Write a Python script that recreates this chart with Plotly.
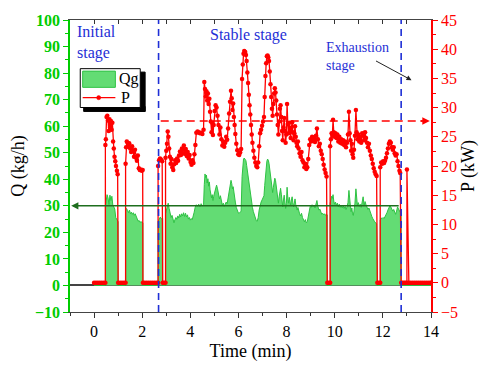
import plotly.graph_objects as go

# ---------------- data ----------------
# Power P (kW) vs time (min)
P_series = [
    (0.00, 0), (0.08, 0), (0.16, 0), (0.24, 0), (0.32, 0), (0.40, 0), (0.47, 0),
    (0.47, 23.6), (0.49, 24.6), (0.52, 28.4), (0.55, 28.6), (0.58, 27.8), (0.61, 26.0),
    (0.64, 28.0), (0.67, 26.6), (0.70, 27.7), (0.73, 26.2), (0.76, 27.4), (0.79, 24.2),
    (0.82, 23.0), (0.85, 21.6), (0.88, 20.8), (0.91, 20.0), (0.95, 19.2), (0.98, 18.6),
    (1.00, 0), (1.08, 0), (1.16, 0), (1.24, 0), (1.31, 0),
    (1.31, 20.4), (1.33, 23.2), (1.36, 24.2), (1.39, 24.0), (1.42, 23.4), (1.46, 23.9),
    (1.50, 23.0), (1.54, 22.4), (1.58, 23.4), (1.62, 22.6), (1.66, 21.6), (1.70, 22.8),
    (1.74, 21.4), (1.78, 20.9), (1.82, 21.8), (1.86, 19.6), (1.90, 19.3), (1.94, 19.4),
    (1.98, 19.2), (2.02, 19.3),
    (2.03, 0), (2.10, 0), (2.18, 0), (2.26, 0), (2.34, 0), (2.42, 0), (2.50, 0), (2.58, 0), (2.66, 0),
    (2.66, 20.0), (2.70, 21.0), (2.74, 21.3), (2.78, 21.1), (2.83, 20.8),
    (2.85, 0), (2.91, 0), (2.97, 0),
    (2.97, 21.4), (3.00, 22.6), (3.03, 23.8), (3.06, 25.9), (3.09, 25.0), (3.12, 23.0),
    (3.15, 21.6), (3.18, 20.4), (3.21, 21.2), (3.25, 19.8), (3.29, 19.3), (3.33, 20.3),
    (3.37, 21.0), (3.41, 20.5), (3.45, 21.3), (3.49, 20.9), (3.53, 21.8), (3.57, 22.5),
    (3.61, 21.9), (3.65, 23.0), (3.69, 22.2), (3.73, 23.5), (3.77, 22.1), (3.81, 22.9),
    (3.85, 21.7), (3.89, 22.4), (3.93, 21.3), (3.97, 21.9), (4.01, 20.7), (4.05, 20.2),
    (4.09, 21.0), (4.13, 20.5), (4.17, 22.0), (4.21, 23.6), (4.25, 25.7), (4.30, 25.9),
    (4.35, 25.8), (4.40, 25.6), (4.45, 25.7), (4.50, 25.5), (4.55, 26.2), (4.58, 34.4),
    (4.61, 33.2), (4.64, 31.9), (4.67, 32.8), (4.70, 31.2), (4.73, 32.4), (4.76, 30.6),
    (4.79, 31.5), (4.82, 29.3), (4.85, 27.6), (4.88, 25.8), (4.91, 27.4), (4.94, 25.3),
    (4.97, 27.0), (5.01, 29.4), (5.05, 30.4), (5.09, 30.0), (5.13, 28.6), (5.17, 27.0),
    (5.21, 25.4), (5.25, 26.6), (5.29, 24.6), (5.33, 23.5), (5.37, 24.2), (5.41, 23.3),
    (5.45, 24.0), (5.49, 25.0), (5.53, 24.5), (5.57, 26.4), (5.61, 29.0), (5.65, 31.0),
    (5.69, 32.9), (5.72, 31.6), (5.75, 29.6), (5.78, 30.7), (5.81, 28.4), (5.84, 27.0),
    (5.87, 25.5), (5.91, 23.8), (5.95, 22.7), (5.99, 22.0), (6.03, 21.9), (6.07, 22.3),
    (6.11, 22.9), (6.15, 34.9), (6.18, 37.4), (6.21, 39.2), (6.24, 39.7), (6.28, 39.5),
    (6.31, 39.0), (6.34, 38.0), (6.37, 36.0), (6.40, 34.2), (6.43, 32.2), (6.46, 30.4),
    (6.49, 28.8), (6.52, 27.0), (6.55, 25.4), (6.58, 24.0), (6.62, 22.6), (6.66, 21.4),
    (6.70, 20.6), (6.74, 20.0), (6.78, 19.8), (6.82, 20.6), (6.86, 23.4), (6.90, 25.6),
    (6.94, 26.2), (6.98, 26.9), (7.02, 27.6), (7.06, 28.4), (7.09, 31.8), (7.12, 35.4),
    (7.15, 37.6), (7.18, 38.8), (7.21, 38.9), (7.24, 38.6), (7.27, 38.0), (7.30, 36.2),
    (7.33, 34.0), (7.36, 31.8), (7.39, 29.8), (7.42, 28.6), (7.45, 30.6), (7.48, 32.4),
    (7.51, 33.3), (7.54, 32.6), (7.57, 31.2), (7.60, 28.8), (7.63, 27.0), (7.66, 25.4),
    (7.69, 27.6), (7.72, 29.8), (7.75, 30.4), (7.78, 28.4), (7.81, 26.0), (7.84, 24.4),
    (7.87, 26.6), (7.90, 28.2), (7.93, 26.0), (7.96, 24.0), (7.99, 25.4), (8.02, 30.6),
    (8.05, 27.2), (8.08, 25.6), (8.11, 27.4), (8.14, 26.0), (8.17, 24.8), (8.20, 26.6),
    (8.23, 27.5), (8.26, 25.8), (8.29, 24.4), (8.32, 25.6), (8.35, 26.8), (8.38, 25.0),
    (8.41, 24.0), (8.44, 23.4), (8.47, 24.2), (8.50, 23.0), (8.54, 22.2), (8.58, 21.6),
    (8.62, 22.4), (8.66, 21.0), (8.70, 20.6), (8.74, 19.8), (8.78, 20.4), (8.82, 19.5),
    (8.86, 19.8), (8.90, 21.2), (8.94, 23.6), (8.98, 24.6), (9.02, 24.2), (9.06, 25.0),
    (9.10, 24.4), (9.14, 24.9), (9.18, 24.1), (9.22, 25.2), (9.26, 26.4), (9.30, 24.6),
    (9.34, 23.4), (9.38, 23.8), (9.42, 22.6), (9.46, 22.0), (9.50, 21.2), (9.54, 20.2),
    (9.58, 19.4), (9.62, 18.8), (9.66, 18.2),
    (9.69, 0), (9.75, 0), (9.81, 0),
    (9.81, 23.4), (9.84, 24.6), (9.87, 25.6), (9.90, 25.2), (9.93, 27.9), (9.96, 25.8),
    (9.99, 25.0), (10.03, 25.6), (10.07, 24.8), (10.11, 25.4), (10.15, 24.2), (10.19, 25.0),
    (10.23, 24.0), (10.27, 24.6), (10.31, 23.8), (10.35, 24.4), (10.39, 23.6), (10.43, 24.2),
    (10.47, 23.2), (10.51, 24.0), (10.55, 25.4), (10.59, 29.3), (10.62, 25.6), (10.65, 24.4),
    (10.68, 22.6), (10.71, 23.8), (10.74, 22.0), (10.77, 21.4), (10.80, 22.8), (10.84, 25.2),
    (10.88, 29.6), (10.91, 25.8), (10.94, 24.6), (10.98, 25.4), (11.02, 24.2), (11.06, 25.0),
    (11.10, 24.0), (11.14, 25.6), (11.18, 25.2), (11.22, 24.4), (11.26, 25.8), (11.30, 24.8),
    (11.34, 24.0), (11.38, 23.2), (11.42, 23.8), (11.46, 22.6), (11.50, 21.8), (11.54, 21.2),
    (11.58, 20.4), (11.62, 19.6), (11.66, 19.0), (11.70, 18.6), (11.74, 18.3),
    (11.77, 0), (11.83, 0), (11.89, 0),
    (11.89, 19.8), (11.93, 20.6), (11.97, 20.4), (12.01, 20.8), (12.05, 20.5), (12.09, 20.9),
    (12.13, 21.4), (12.17, 22.2), (12.21, 23.0), (12.25, 23.8), (12.29, 24.2), (12.33, 24.0),
    (12.37, 23.2), (12.41, 22.8), (12.45, 23.2), (12.49, 22.2), (12.53, 21.8), (12.57, 22.0),
    (12.61, 20.8), (12.65, 20.0), (12.69, 19.2), (12.72, 18.8),
    (12.76, 0), (12.82, 0), (12.88, 0), (12.94, 0), (13.00, 0),
    (13.00, 19.4), (13.08, 0),
    (13.16, 0), (13.24, 0), (13.32, 0), (13.40, 0), (13.48, 0), (13.56, 0), (13.64, 0),
    (13.72, 0), (13.80, 0), (13.88, 0), (13.96, 0), (14.00, 0),
]

# Gas flow Qg (kg/h) vs time (min)
Q_series = [
    (0.00, 0), (0.47, 0),
    (0.47, 29.5), (0.50, 31.0), (0.54, 34.2), (0.58, 33.0), (0.62, 30.5), (0.66, 34.0),
    (0.70, 32.0), (0.74, 33.6), (0.78, 30.2), (0.82, 29.6), (0.86, 28.8), (0.90, 25.6),
    (0.94, 24.8), (0.98, 24.2), (1.00, 24.0),
    (1.00, 0), (1.31, 0),
    (1.31, 28.0), (1.35, 29.0), (1.39, 28.2), (1.43, 27.4), (1.47, 28.4), (1.51, 27.0),
    (1.55, 27.6), (1.59, 26.8), (1.63, 27.4), (1.67, 26.4), (1.71, 27.0), (1.75, 26.0),
    (1.79, 24.6), (1.83, 24.2), (1.87, 24.5), (1.91, 23.8), (1.95, 24.0), (2.00, 23.8),
    (2.03, 23.6),
    (2.03, 0), (2.66, 0),
    (2.66, 24.0), (2.70, 25.2), (2.75, 25.8), (2.80, 25.0), (2.85, 25.3),
    (2.85, 0), (2.97, 0),
    (2.97, 27.0), (3.00, 28.5), (3.04, 30.2), (3.08, 31.0), (3.12, 29.0), (3.16, 26.8),
    (3.20, 25.6), (3.24, 26.4), (3.28, 24.4), (3.32, 23.6), (3.36, 24.8), (3.40, 25.6),
    (3.44, 24.9), (3.48, 26.2), (3.52, 25.4), (3.56, 26.8), (3.60, 25.8), (3.64, 27.0),
    (3.68, 26.2), (3.72, 27.4), (3.76, 26.0), (3.80, 27.2), (3.84, 25.8), (3.88, 26.6),
    (3.92, 25.0), (3.96, 25.6), (4.00, 24.6), (4.04, 25.2), (4.08, 24.8), (4.12, 26.0),
    (4.16, 27.6), (4.20, 29.4), (4.25, 30.4), (4.30, 29.8), (4.35, 30.6), (4.40, 29.6),
    (4.45, 30.8), (4.50, 30.0), (4.55, 30.4), (4.58, 38.0), (4.61, 42.0), (4.64, 40.6),
    (4.67, 41.6), (4.70, 38.6), (4.73, 40.2), (4.76, 37.4), (4.79, 39.0), (4.82, 36.0),
    (4.85, 34.8), (4.88, 33.0), (4.91, 34.2), (4.94, 32.0), (4.97, 33.6), (5.01, 35.4),
    (5.05, 37.2), (5.09, 37.8), (5.13, 36.4), (5.17, 34.4), (5.21, 32.6), (5.25, 33.8),
    (5.29, 31.4), (5.33, 30.2), (5.37, 31.0), (5.41, 29.8), (5.45, 30.6), (5.49, 31.4),
    (5.53, 30.8), (5.57, 33.0), (5.61, 35.6), (5.65, 38.0), (5.69, 39.6), (5.72, 38.4),
    (5.75, 36.4), (5.78, 37.2), (5.81, 34.8), (5.84, 33.0), (5.87, 31.4), (5.91, 29.4),
    (5.95, 28.2), (5.99, 27.4), (6.03, 27.2), (6.07, 27.6), (6.11, 28.0), (6.15, 41.0),
    (6.18, 45.6), (6.21, 47.6), (6.24, 48.0), (6.28, 47.4), (6.31, 47.0), (6.34, 45.2),
    (6.37, 43.0), (6.40, 41.2), (6.43, 38.8), (6.46, 36.6), (6.49, 34.6), (6.52, 32.6),
    (6.55, 30.8), (6.58, 29.4), (6.62, 27.8), (6.66, 26.4), (6.70, 25.4), (6.74, 24.4),
    (6.78, 24.2), (6.82, 25.6), (6.86, 28.4), (6.90, 30.6), (6.94, 31.4), (6.98, 32.2),
    (7.02, 33.0), (7.06, 33.8), (7.09, 37.6), (7.12, 42.0), (7.15, 45.0), (7.18, 46.8),
    (7.21, 47.6), (7.24, 47.2), (7.27, 46.0), (7.30, 44.0), (7.33, 41.6), (7.36, 38.8),
    (7.39, 36.4), (7.42, 35.0), (7.45, 37.0), (7.48, 39.0), (7.51, 40.4), (7.54, 39.6),
    (7.57, 37.8), (7.60, 35.0), (7.63, 33.0), (7.66, 31.0), (7.69, 33.4), (7.72, 35.8),
    (7.75, 36.6), (7.78, 34.4), (7.81, 31.6), (7.84, 29.6), (7.87, 32.2), (7.90, 34.0),
    (7.93, 31.4), (7.96, 29.0), (7.99, 30.8), (8.02, 37.0), (8.05, 33.0), (8.08, 31.0),
    (8.11, 33.2), (8.14, 31.6), (8.17, 30.0), (8.20, 32.2), (8.23, 33.4), (8.26, 31.2),
    (8.29, 29.6), (8.32, 31.0), (8.35, 32.6), (8.38, 30.4), (8.41, 29.2), (8.44, 28.4),
    (8.47, 29.4), (8.50, 27.8), (8.54, 27.0), (8.58, 26.2), (8.62, 27.2), (8.66, 25.6),
    (8.70, 25.0), (8.74, 24.0), (8.78, 24.8), (8.82, 23.6), (8.86, 24.0), (8.90, 25.8),
    (8.94, 28.6), (8.98, 29.8), (9.02, 29.4), (9.06, 30.4), (9.10, 29.6), (9.14, 30.2),
    (9.18, 29.2), (9.22, 30.6), (9.26, 32.0), (9.30, 29.8), (9.34, 28.4), (9.38, 28.8),
    (9.42, 27.4), (9.46, 26.8), (9.50, 27.2), (9.54, 26.6), (9.58, 27.0), (9.62, 26.4),
    (9.66, 26.8), (9.69, 26.6),
    (9.69, 0), (9.81, 0),
    (9.81, 31.0), (9.84, 32.4), (9.87, 33.6), (9.90, 32.8), (9.93, 34.2), (9.96, 31.8),
    (9.99, 30.6), (10.03, 31.4), (10.07, 30.2), (10.11, 31.0), (10.15, 29.6), (10.19, 30.6),
    (10.23, 29.4), (10.27, 30.2), (10.31, 29.2), (10.35, 30.0), (10.39, 29.0), (10.43, 29.8),
    (10.47, 28.6), (10.51, 29.6), (10.55, 31.2), (10.59, 35.8), (10.62, 31.4), (10.65, 30.0),
    (10.68, 27.8), (10.71, 29.2), (10.74, 27.0), (10.77, 26.4), (10.80, 28.0), (10.84, 31.0),
    (10.88, 36.4), (10.91, 31.6), (10.94, 30.2), (10.98, 31.2), (11.02, 29.8), (11.06, 30.6),
    (11.10, 29.4), (11.14, 31.4), (11.18, 33.4), (11.22, 30.0), (11.26, 31.6), (11.30, 30.4),
    (11.34, 29.4), (11.38, 28.6), (11.42, 29.2), (11.46, 27.8), (11.50, 26.8), (11.54, 26.0),
    (11.58, 25.2), (11.62, 24.4), (11.66, 24.0), (11.70, 23.6), (11.74, 23.2),
    (11.77, 0), (11.89, 0),
    (11.89, 24.6), (11.93, 25.4), (11.97, 25.2), (12.01, 25.6), (12.05, 25.2), (12.09, 25.8),
    (12.13, 26.4), (12.17, 27.4), (12.21, 28.4), (12.25, 29.4), (12.29, 30.0), (12.33, 29.6),
    (12.37, 28.6), (12.41, 28.0), (12.45, 28.6), (12.49, 27.4), (12.53, 26.8), (12.57, 28.0),
    (12.61, 29.6), (12.65, 28.8), (12.69, 28.0), (12.72, 27.6), (12.76, 27.4),
    (12.76, 0), (14.00, 0),
]

stage_bounds = [2.68, 12.76]     # blue dashed stage separators (min)
Q_mean = 30.0                     # dark green reference level (kg/h)
Q_mean_span = [-0.95, 12.72]
P_mean = 27.7                     # red dashed reference level (kW)
P_mean_span = [2.77, 13.95]
exh_arrow_head = (13.19, 34.7)    # (min, kW)
legend_labels = ["Qg", "P"]

t_P = [p[0] for p in P_series]
P_kW = [p[1] for p in P_series]
t_Q = [q[0] for q in Q_series]
Q_kgh = [q[1] for q in Q_series]

GREEN = "#00cc00"
RED = "#ff0000"
BLUE = "#1f2fd6"
FILL = "#63dc74"
FILL_EDGE = "#2ec243"
FONT = "Liberation Serif"

# plot area in pixels (for placing decorations in paper coordinates)
PL, PR, PT, PB = 70, 440, 15, 312
def px(x):
    return (x - PL) / (PR - PL)
def py(y):
    return (PB - y) / (PB - PT)

fig = go.Figure()
fig.add_trace(go.Scatter(
    x=t_Q, y=Q_kgh, name=legend_labels[0], mode="lines", fill="tozeroy",
    fillcolor=FILL, line=dict(color=FILL_EDGE, width=1),
    yaxis="y", xaxis="x", showlegend=False))
fig.add_trace(go.Scatter(
    x=t_P, y=P_kW, name=legend_labels[1], mode="lines+markers",
    line=dict(color=RED, width=1.3), marker=dict(color=RED, size=4.5, symbol="circle"),
    yaxis="y2", xaxis="x", showlegend=False))
fig.add_trace(go.Scatter(x=[None], y=[None], xaxis="x2", yaxis="y",
                         showlegend=False, hoverinfo="skip"))

shapes = []
for xb in stage_bounds:
    shapes.append(dict(type="line", xref="x", yref="paper", x0=xb, x1=xb, y0=0, y1=1,
                       line=dict(color=BLUE, width=1.6, dash="7px,5px"), layer="above"))
shapes.append(dict(type="line", xref="x", yref="y2", x0=P_mean_span[0], x1=P_mean_span[1] - 0.3,
                   y0=P_mean, y1=P_mean, line=dict(color=RED, width=1.5, dash="8px,5px"), layer="above"))

# hand-drawn legend box with drop shadow (as in the reference)
shapes += [
    dict(type="rect", xref="paper", yref="paper", x0=px(141), x1=px(147), y0=py(108), y1=py(68),
         fillcolor="#000000", line=dict(color="#000000", width=1), layer="above"),
    dict(type="rect", xref="paper", yref="paper", x0=px(84), x1=px(147), y0=py(108), y1=py(103),
         fillcolor="#000000", line=dict(color="#000000", width=1), layer="above"),
    dict(type="rect", xref="paper", yref="paper", x0=px(80.5), x1=px(142), y0=py(104), y1=py(64.5),
         fillcolor="white", line=dict(color="black", width=1), layer="above"),
    dict(type="rect", xref="paper", yref="paper", x0=px(83), x1=px(116.5), y0=py(83.5), y1=py(67),
         fillcolor=FILL, line=dict(color=FILL_EDGE, width=1), layer="above"),
    dict(type="line", xref="paper", yref="paper", x0=px(83), x1=px(116.5), y0=py(94), y1=py(94),
         line=dict(color=RED, width=1.3), layer="above"),
    dict(type="circle", xref="paper", yref="paper", x0=px(97.3), x1=px(101.5), y0=py(96.1), y1=py(91.9),
         fillcolor=RED, line=dict(color=RED, width=0.5), layer="above"),
]

annotations = [
    dict(text=legend_labels[0], xref="paper", yref="paper", x=px(118.5), y=py(75.5),
         xanchor="left", yanchor="middle", showarrow=False,
         font=dict(family=FONT, size=16, color="black")),
    dict(text=legend_labels[1], xref="paper", yref="paper", x=px(120.5), y=py(94),
         xanchor="left", yanchor="middle", showarrow=False,
         font=dict(family=FONT, size=16, color="black")),
    dict(text="Initial<br>stage", xref="paper", yref="paper", x=px(75.5), y=py(16),
         xanchor="left", yanchor="top", align="left", showarrow=False,
         font=dict(family=FONT, size=16, color=BLUE)),
    dict(text="Stable stage", xref="paper", yref="paper", x=px(253), y=py(30),
         xanchor="center", yanchor="middle", showarrow=False,
         font=dict(family=FONT, size=16, color=BLUE)),
    dict(text="Exhaustion<br>stage", xref="paper", yref="paper", x=px(330), y=py(33),
         xanchor="left", yanchor="top", align="left", showarrow=False,
         font=dict(family=FONT, size=14, color=BLUE)),
    dict(text="", x=exh_arrow_head[0], y=exh_arrow_head[1], xref="x", yref="y2",
         showarrow=True, ax=-37, ay=-20, arrowhead=2, arrowsize=1, arrowwidth=1,
         arrowcolor="#222222"),
    dict(text="", x=Q_mean_span[0], y=Q_mean, xref="x", yref="y",
         ax=Q_mean_span[1], ay=Q_mean, axref="x", ayref="y",
         showarrow=True, arrowhead=2, arrowsize=0.9, arrowwidth=1.6, arrowcolor="#1e6e1e"),
    dict(text="", x=P_mean_span[1], y=P_mean, xref="x", yref="y2",
         ax=P_mean_span[1] - 0.45, ay=P_mean, axref="x", ayref="y2",
         showarrow=True, arrowhead=2, arrowsize=1, arrowwidth=1.5, arrowcolor=RED),
]

fig.update_layout(
    width=487, height=370,
    margin=dict(l=PL, r=487 - PR, t=PT, b=370 - PB),
    paper_bgcolor="white", plot_bgcolor="white",
    font=dict(family=FONT, size=15, color="black"),
    showlegend=False,
    xaxis=dict(range=[-1, 14], tickmode="linear", tick0=0, dtick=2,
               ticks="outside", ticklen=5, tickwidth=1, tickcolor="#333",
               minor=dict(dtick=1, tick0=0, ticks="outside", ticklen=3, tickcolor="#333"),
               showline=True, linecolor="#444", linewidth=1.3,
               showgrid=False, zeroline=False,
               tickfont=dict(family=FONT, size=16, color="black"),
               title=dict(text="Time (min)", font=dict(family=FONT, size=18), standoff=5)),
    xaxis2=dict(range=[-1, 14], overlaying="x", side="top", anchor="y",
                tickmode="linear", tick0=0, dtick=1, ticks="inside", ticklen=4,
                tickcolor="#333", showticklabels=False, showline=True,
                linecolor="#444", linewidth=1.3, showgrid=False, zeroline=False),
    yaxis=dict(range=[-10, 100], tickmode="linear", tick0=0, dtick=10,
               ticks="outside", ticklen=5, tickwidth=1.2, tickcolor=GREEN,
               minor=dict(dtick=5, ticks="outside", ticklen=3, tickcolor=GREEN),
               showline=True, linecolor=GREEN, linewidth=1.6,
               showgrid=False, zeroline=True, zerolinecolor="#444", zerolinewidth=1.6,
               layer="above traces",
               tickfont=dict(family=FONT, size=16, color=GREEN, weight="bold"),
               title=dict(text="Q (kg/h)", font=dict(family=FONT, size=18), standoff=6)),
    yaxis2=dict(range=[-5, 45], overlaying="y", side="right", anchor="x",
                tickmode="linear", tick0=0, dtick=5,
                ticks="outside", ticklen=5, tickwidth=1.2, tickcolor=RED,
                minor=dict(dtick=2.5, ticks="outside", ticklen=3, tickcolor=RED),
                showline=True, linecolor=RED, linewidth=1.6,
                showgrid=False, zeroline=False,
                tickfont=dict(family=FONT, size=16, color=RED),
                title=dict(text="P (kW)", font=dict(family=FONT, size=18), standoff=4)),
    shapes=shapes,
    annotations=annotations,
)

fig.write_html("out.html")
